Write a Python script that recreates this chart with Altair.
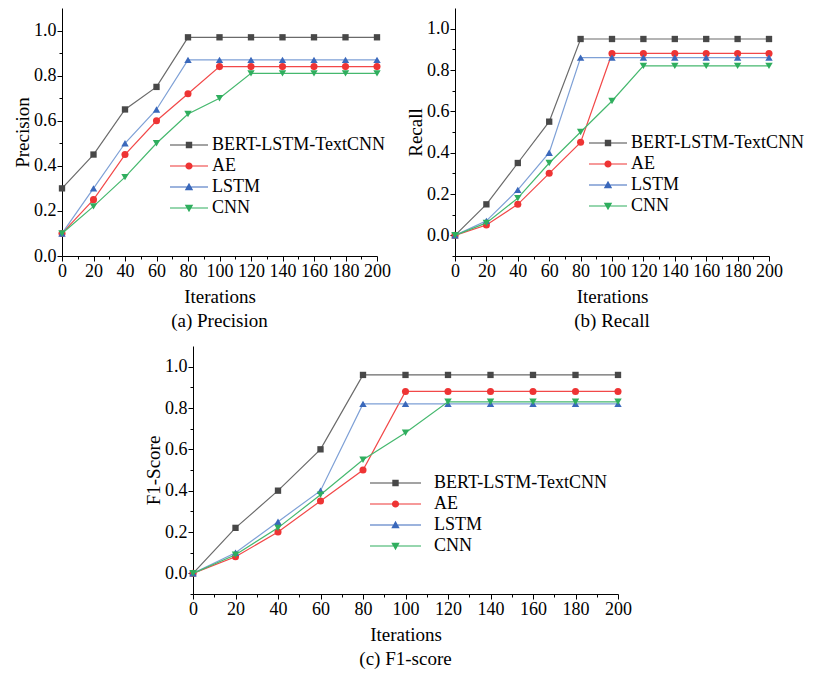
import altair as alt
import pandas as pd

iterations = [0, 20, 40, 60, 80, 100, 120, 140, 160, 180, 200]
models = ["BERT-LSTM-TextCNN", "AE", "LSTM", "CNN"]

precision_bert = [0.30, 0.45, 0.65, 0.75, 0.97, 0.97, 0.97, 0.97, 0.97, 0.97, 0.97]
precision_ae = [0.10, 0.25, 0.45, 0.60, 0.72, 0.84, 0.84, 0.84, 0.84, 0.84, 0.84]
precision_lstm = [0.10, 0.30, 0.50, 0.65, 0.87, 0.87, 0.87, 0.87, 0.87, 0.87, 0.87]
precision_cnn = [0.10, 0.22, 0.35, 0.50, 0.63, 0.70, 0.81, 0.81, 0.81, 0.81, 0.81]

recall_bert = [0.00, 0.15, 0.35, 0.55, 0.95, 0.95, 0.95, 0.95, 0.95, 0.95, 0.95]
recall_ae = [0.00, 0.05, 0.15, 0.30, 0.45, 0.88, 0.88, 0.88, 0.88, 0.88, 0.88]
recall_lstm = [0.00, 0.07, 0.22, 0.40, 0.86, 0.86, 0.86, 0.86, 0.86, 0.86, 0.86]
recall_cnn = [0.00, 0.06, 0.18, 0.35, 0.50, 0.65, 0.82, 0.82, 0.82, 0.82, 0.82]

f1_bert = [0.00, 0.22, 0.40, 0.60, 0.96, 0.96, 0.96, 0.96, 0.96, 0.96, 0.96]
f1_ae = [0.00, 0.08, 0.20, 0.35, 0.50, 0.88, 0.88, 0.88, 0.88, 0.88, 0.88]
f1_lstm = [0.00, 0.10, 0.25, 0.40, 0.82, 0.82, 0.82, 0.82, 0.82, 0.82, 0.82]
f1_cnn = [0.00, 0.09, 0.22, 0.38, 0.55, 0.68, 0.83, 0.83, 0.83, 0.83, 0.83]

FONT = "Liberation Serif"
marker_colors = ["#484848", "#ee3434", "#3a68bb", "#2fae5e"]
line_colors = ["#6a6a6a", "#f24848", "#7ea0d6", "#45b86e"]
shapes = ["square", "circle", "triangle-up", "triangle-down"]
marker_sizes = [40, 50, 55, 55]

SYM = 23  # legend symbol box (controls row spacing)


def legend_paths(L):
    u = 2.0 / SYM
    a = L / SYM
    t = 0.6 * u
    line = f"M{-a:.4f},{-t:.4f}L{a:.4f},{-t:.4f}L{a:.4f},{t:.4f}L{-a:.4f},{t:.4f}Z"
    s = 3.2 * u
    sq = f"M{-s:.4f},{-s:.4f}L{s:.4f},{-s:.4f}L{s:.4f},{s:.4f}L{-s:.4f},{s:.4f}Z"
    r = 3.6 * u
    ci = f"M{r:.4f},0A{r:.4f},{r:.4f} 0 1,1 {-r:.4f},0A{r:.4f},{r:.4f} 0 1,1 {r:.4f},0Z"
    h = 4.2 * u
    tu = f"M0,{-h:.4f}L{h:.4f},{h*0.75:.4f}L{-h:.4f},{h*0.75:.4f}Z"
    td = f"M{-h:.4f},{-h*0.75:.4f}L{h:.4f},{-h*0.75:.4f}L0,{h:.4f}Z"
    return [line + sq, line + ci, line + tu, line + td]


def panel(series, ytitle, caption, ymin, width, height, line_left, row1, L, gap):
    rows = []
    for m, vals in zip(models, series):
        for it, v in zip(iterations, vals):
            rows.append({"iteration": it, "model": m, "value": v})
    df = pd.DataFrame(rows)

    xenc = alt.X(
        "iteration:Q",
        scale=alt.Scale(domain=[0, 200], nice=False),
        axis=alt.Axis(
            values=list(range(0, 201, 10)),
            labelExpr="datum.value % 20 === 0 ? datum.label : ''",
            tickSize={"condition": {"test": "datum.value % 20 === 0", "value": 5}, "value": 3},
            title="Iterations",
            labelFlush=False,
            labelOverlap=False,
            titlePadding=7,
            labelFont=FONT, titleFont=FONT, labelFontSize=18, titleFontSize=19,
            titleFontWeight="normal",
        ),
    )
    yvals = [round(i * 0.1, 1) for i in range(int(round(ymin * 10)), 11)]
    yenc = alt.Y(
        "value:Q",
        scale=alt.Scale(domain=[ymin, 1.1], nice=False, zero=False),
        axis=alt.Axis(
            values=yvals,
            labelExpr="abs(round(datum.value*10)) % 2 === 0 && datum.value >= 0 ? format(datum.value, '.1f') : ''",
            tickSize={"condition": {"test": "abs(round(datum.value*10)) % 2 === 0", "value": 5}, "value": 3},
            title=ytitle,
            titlePadding=1,
            labelFont=FONT, titleFont=FONT, labelFontSize=18, titleFontSize=19,
            titleFontWeight="normal",
        ),
    )

    layers = []
    for i, m in enumerate(models):
        base = alt.Chart(df).transform_filter(alt.datum.model == m)
        layers.append(
            base.mark_line(color=line_colors[i], strokeWidth=1.2).encode(x=xenc, y=yenc)
        )
        layers.append(
            base.mark_point(
                filled=True, shape=shapes[i], size=marker_sizes[i],
                color=marker_colors[i], opacity=1,
            ).encode(x=xenc, y=yenc)
        )

    lx = line_left - SYM / 2 + L / 2
    loff = L / 2 - SYM / 2 + gap
    ly = row1 - (SYM / 2 - 1)
    leg = alt.Legend(
        orient="none", legendX=lx, legendY=ly, title=None,
        labelFont=FONT, labelFontSize=18, labelColor="black", labelLimit=0,
        symbolSize=SYM * SYM, symbolStrokeWidth=0, labelOffset=loff,
        rowPadding=0, padding=0,
    )
    legend_layer = (
        alt.Chart(df)
        .transform_filter("false")
        .mark_point(filled=True, opacity=1)
        .encode(
            x=xenc, y=yenc,
            fill=alt.Fill("model:N", scale=alt.Scale(domain=models, range=marker_colors), legend=leg),
            shape=alt.Shape("model:N", scale=alt.Scale(domain=models, range=legend_paths(L)), legend=leg),
        )
    )
    layers.append(legend_layer)

    return alt.layer(*layers).properties(
        width=width, height=height,
        title=alt.TitleParams(
            caption, orient="bottom", anchor="middle", frame="group",
            font=FONT, fontSize=19, fontWeight="normal", color="black", offset=6,
        ),
    )


pa = panel([precision_bert, precision_ae, precision_lstm, precision_cnn],
           "Precision", "(a) Precision", 0.0, 315, 248, 108, 136, 38, 4)
pb = panel([recall_bert, recall_ae, recall_lstm, recall_cnn],
           "Recall", "(b) Recall", -0.1, 314, 248, 134, 134, 38, 4)
pc = panel([f1_bert, f1_ae, f1_lstm, f1_cnn],
           "F1-Score", "(c) F1-score", -0.1, 425, 248, 177, 136, 51, 13)

spacer = (
    alt.Chart(pd.DataFrame({"v": [0]}))
    .mark_point(opacity=0)
    .encode(x=alt.value(0), y=alt.value(0))
    .properties(width=100, height=10)
)

top = (
    alt.hconcat(pa, pb, spacing=78, bounds="flush")
    .resolve_scale(fill="independent", shape="independent")
    .resolve_legend(fill="independent", shape="independent")
)
bottom = (
    alt.hconcat(spacer, pc, spacing=31, bounds="flush")
    .resolve_scale(fill="independent", shape="independent")
    .resolve_legend(fill="independent", shape="independent")
)

chart = (
    alt.vconcat(top, bottom, spacing=12)
    .resolve_scale(fill="independent", shape="independent")
    .resolve_legend(fill="independent", shape="independent")
    .properties(padding={"left": 5, "top": 0, "right": 0, "bottom": 0})
    .configure_view(stroke=None)
    .configure_axis(
        labelFont=FONT, titleFont=FONT, labelFontSize=18, titleFontSize=19,
        titleFontWeight="normal", labelColor="black", titleColor="black",
        domainColor="black", tickColor="black", domainWidth=1, tickWidth=1,
        grid=False, labelPadding=1,
    )
    .configure_legend(labelFont=FONT)
)

chart.save("out.html", embed_options={"renderer": "svg", "actions": False})
